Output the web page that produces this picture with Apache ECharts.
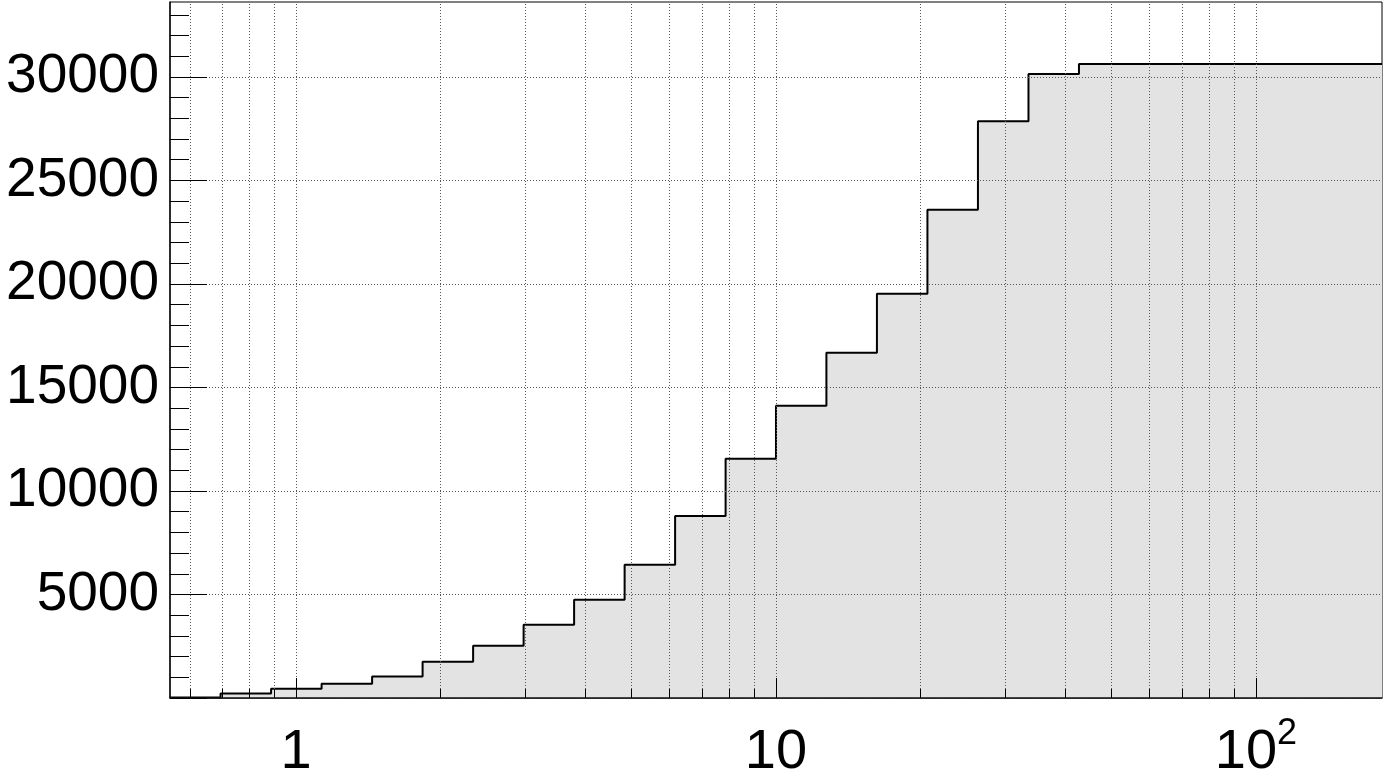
<!DOCTYPE html>
<html>
<head>
<meta charset="utf-8">
<script src="https://cdn.jsdelivr.net/npm/echarts@6/dist/echarts.min.js"></script>
<style>
html,body{margin:0;padding:0;background:#fff;}
#chart{width:1383px;height:777px;}
</style>
</head>
<body>
<div id="chart"></div>
<script>
// Bin edges (log-spaced)
var binEdges = [0.5464, 0.6964, 0.8874, 1.1307, 1.4408, 1.8355, 2.339, 2.980, 3.797, 4.838,
  6.164, 7.853, 10, 12.737, 16.23, 20.68, 26.35, 33.58, 42.78, 54.51, 69.46, 88.50, 112.77, 143.68, 183.06];
// Cumulative counts per bin
var binValues = [30, 222, 449, 691, 1043, 1754, 2527, 3541, 4749, 6440, 8792, 11561, 14121,
  16682, 19532, 23590, 27856, 30146, 30629, 30629, 30629, 30629, 30629, 30629];
// Axis ranges and ticks
var xMin = 0.5464, xMax = 183.06;
var yMin = 0, yMax = 33620;
var xGridValues = [0.6, 0.7, 0.8, 0.9, 1, 2, 3, 4, 5, 6, 7, 8, 9, 10, 20, 30, 40, 50, 60, 70, 80, 90, 100];
var yMajorTicks = [0, 5000, 10000, 15000, 20000, 25000, 30000];
var yLabelValues = [5000, 10000, 15000, 20000, 25000, 30000];
var yMinorTicks = [1000, 2000, 3000, 4000, 6000, 7000, 8000, 9000, 11000, 12000, 13000, 14000,
  16000, 17000, 18000, 19000, 21000, 22000, 23000, 24000, 26000, 27000, 28000, 29000, 31000, 32000, 33000];

var stepData = [];
for (var i = 0; i < binValues.length; i++) stepData.push([binEdges[i], binValues[i]]);
stepData.push([binEdges[binEdges.length - 1], binValues[binValues.length - 1]]);

var FONT = 'Liberation Sans, Arial, Helvetica, sans-serif';
var chart = echarts.init(document.getElementById('chart'), null, {renderer: 'canvas'});
var option = {
  animation: false,
  backgroundColor: '#fff',
  grid: {left: 170, right: 1, top: 2, bottom: 79, show: true, borderColor: '#000', borderWidth: 1,
    backgroundColor: 'transparent', containLabel: false, outerBoundsMode: 'none'},
  xAxis: {
    type: 'log', logBase: 10, min: xMin, max: xMax, z: 5,
    axisLine: {show: true, lineStyle: {color: '#111', width: 1.5}},
    axisTick: {show: false},
    splitLine: {show: false},
    minorTick: {show: false},
    axisLabel: {
      show: true, margin: 18, color: '#000', fontFamily: FONT, hideOverlap: false,
      formatter: function (v) {
        var l = Math.log10(v);
        if (Math.abs(l - Math.round(l)) > 1e-6) return '';
        var p = Math.round(l);
        if (p === 0) return '{a|1}';
        if (p === 1) return '{a|10}';
        return '{a|10}{s|' + p + '}';
      },
      rich: {
        a: {fontSize: 56, fontFamily: FONT, color: '#000', padding: [9, 0, 0, 0], verticalAlign: 'bottom'},
        s: {fontSize: 36, fontFamily: FONT, color: '#000', verticalAlign: 'top'}
      }
    }
  },
  yAxis: [{
    type: 'value', min: yMin, max: yMax, position: 'left', z: 5,
    axisLine: {show: true, lineStyle: {color: '#111', width: 1.5}},
    axisTick: {show: true, inside: true, length: 37, customValues: yMajorTicks, lineStyle: {color: '#000', width: 1}},
    axisLabel: {show: true, customValues: yLabelValues, margin: 11, fontSize: 55, fontFamily: FONT, color: '#000',
      formatter: function (v) { return String(v); }},
    splitLine: {show: true, lineStyle: {color: '#555', width: 1, type: [1, 2]}}
  }, {
    type: 'value', min: yMin, max: yMax, position: 'left', offset: 0, z: 5,
    axisLine: {show: false},
    axisTick: {show: true, inside: true, length: 19, customValues: yMinorTicks, lineStyle: {color: '#000', width: 1}},
    axisLabel: {show: false},
    splitLine: {show: false}
  }],
  series: [{
    type: 'line', step: 'end', data: stepData, symbol: 'none', z: 2,
    lineStyle: {color: '#000', width: 2},
    areaStyle: {color: '#e3e3e3', opacity: 1}
  }, {
    type: 'custom', z: 3, silent: true,
    data: xGridValues.map(function (v) { return [v, 0]; }),
    encode: {x: 0, y: 1},
    renderItem: function (params, api) {
      var v = api.value(0);
      var b = api.coord([v, yMin]);
      var t = api.coord([v, yMax]);
      var l = Math.log10(v);
      var major = Math.abs(l - Math.round(l)) < 1e-6;
      var len = major ? 20 : 9;
      var x = Math.round(b[0]) + 0.5;
      return {type: 'group', children: [
        {type: 'line', shape: {x1: x, y1: b[1], x2: x, y2: t[1]}, style: {stroke: '#555', lineWidth: 1, lineDash: [1, 2]}},
        {type: 'line', shape: {x1: x, y1: b[1], x2: x, y2: b[1] - len}, style: {stroke: '#000', lineWidth: 1}}
      ]};
    }
  }]
};
chart.setOption(option);
</script>
</body>
</html>
